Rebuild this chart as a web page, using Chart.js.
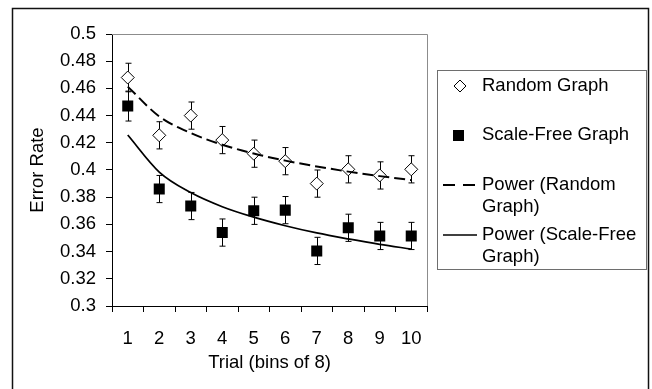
<!DOCTYPE html>
<html>
<head>
<meta charset="utf-8">
<script src="https://cdn.jsdelivr.net/npm/chart.js@4.4.0/dist/chart.umd.min.js"></script>
<style>
  html, body { margin: 0; padding: 0; background: #fff; }
  #wrap { width: 652px; height: 389px; }
</style>
</head>
<body>
<div id="wrap"><canvas id="errchart" width="652" height="389"></canvas></div>
<script>
// values
var categories = ["1", "2", "3", "4", "5", "6", "7", "8", "9", "10"];
var randomGraph = [0.468, 0.4255, 0.44, 0.422, 0.412, 0.4065, 0.39, 0.4005, 0.396, 0.4005];
var randomErr = [0.0105, 0.01, 0.01, 0.01, 0.01, 0.01, 0.01, 0.01, 0.01, 0.01];
var scaleFree = [0.447, 0.386, 0.3735, 0.354, 0.370, 0.3705, 0.3405, 0.3575, 0.3515, 0.3515];
var scaleFreeErr = [0.011, 0.01, 0.01, 0.01, 0.01, 0.01, 0.01, 0.01, 0.01, 0.01];
var powerRandom = [0.4613, 0.4394, 0.4272, 0.4186, 0.4121, 0.4069, 0.4026, 0.3988, 0.3955, 0.3926];
var powerScaleFree = [0.4257, 0.3985, 0.3834, 0.3730, 0.3653, 0.3590, 0.3537, 0.3493, 0.3453, 0.3419];
var yMin = 0.3, yMax = 0.5, yStep = 0.02;

var FONT = "'Liberation Sans', Arial, sans-serif";
var FSIZE = 18.5;

Chart.defaults.font.family = FONT;
Chart.defaults.font.size = FSIZE;
Chart.defaults.color = '#000';

/*----------------------------------------*/
/*  frame, plot border, error bars, legend
/*----------------------------------------*/
var decor = {
	id: 'decor',
	beforeDraw: function (chart) {
		var ctx = chart.ctx;
		ctx.save();
		ctx.fillStyle = '#fff';
		ctx.fillRect(0, 0, chart.width, chart.height);
		ctx.strokeStyle = '#111';
		ctx.lineWidth = 1.5;
		ctx.strokeRect(12.5, 8.5, 636, 400);
		ctx.restore();
	},
	beforeDatasetsDraw: function (chart) {
		var ctx = chart.ctx, a = chart.chartArea;
		var xs = chart.scales.x, ys = chart.scales.y;
		ctx.save();
		ctx.strokeStyle = '#8c8c8c';
		ctx.lineWidth = 1;
		ctx.beginPath();
		ctx.moveTo(a.left, a.top + 0.5);
		ctx.lineTo(a.right + 0.5, a.top + 0.5);
		ctx.lineTo(a.right + 0.5, a.bottom);
		ctx.stroke();

		// error bars
		ctx.strokeStyle = '#000';
		[[randomGraph, randomErr], [scaleFree, scaleFreeErr]].forEach(function (s) {
			s[0].forEach(function (v, i) {
				var x = Math.round(xs.getPixelForValue(i)) + 0.5;
				var t = ys.getPixelForValue(v + s[1][i]);
				var b = ys.getPixelForValue(v - s[1][i]);
				ctx.beginPath();
				ctx.moveTo(x, t); ctx.lineTo(x, b);
				ctx.moveTo(x - 3, t); ctx.lineTo(x + 3, t);
				ctx.moveTo(x - 3, b); ctx.lineTo(x + 3, b);
				ctx.stroke();
			});
		});
		ctx.restore();
	},
	afterDraw: function (chart) {
		var ctx = chart.ctx;
		var ds = chart.data.datasets;
		ctx.save();
		ctx.strokeStyle = '#6e6e6e';
		ctx.lineWidth = 1;
		ctx.strokeRect(437.5, 70.5, 209, 199);

		ctx.font = FSIZE + 'px ' + FONT;
		ctx.fillStyle = '#000';
		ctx.textBaseline = 'middle';
		ctx.textAlign = 'left';

		// diamond
		ctx.beginPath();
		ctx.moveTo(460, 80); ctx.lineTo(466, 86); ctx.lineTo(460, 92); ctx.lineTo(454, 86);
		ctx.closePath();
		ctx.fillStyle = '#fff'; ctx.fill();
		ctx.strokeStyle = '#000'; ctx.stroke();
		ctx.fillStyle = '#000';
		ctx.fillText(ds[2].label, 482, 86);

		// square
		ctx.fillRect(453, 130, 11, 11);
		ctx.fillText(ds[3].label, 482, 135);

		// dashed trend
		ctx.lineWidth = 2;
		ctx.setLineDash([12, 8]);
		ctx.beginPath(); ctx.moveTo(443, 185); ctx.lineTo(477, 185); ctx.stroke();
		ctx.setLineDash([]);
		ctx.fillText('Power (Random', 482, 185);
		ctx.fillText('Graph)', 482, 207);

		// solid trend
		ctx.lineWidth = 1.5;
		ctx.beginPath(); ctx.moveTo(443, 235); ctx.lineTo(477, 235); ctx.stroke();
		ctx.fillText('Power (Scale-Free', 482, 235);
		ctx.fillText('Graph)', 482, 257);
		ctx.restore();
	}
};

var ctx = document.getElementById("errchart");
var errchart = new Chart(ctx, {
	type: 'line',
	data: {
		labels: categories,
		datasets: [{
			label: 'Power (Random Graph)',
			data: powerRandom,
			borderColor: '#000',
			borderWidth: 2,
			borderDash: [11, 5],
			pointRadius: 0,
			cubicInterpolationMode: 'monotone',
			fill: false,
			order: 0
		}, {
			label: 'Power (Scale-Free Graph)',
			data: powerScaleFree,
			borderColor: '#000',
			borderWidth: 1.75,
			pointRadius: 0,
			cubicInterpolationMode: 'monotone',
			fill: false,
			order: 0
		}, {
			label: 'Random Graph',
			data: randomGraph,
			showLine: false,
			pointStyle: 'rectRot',
			pointRadius: 6.5,
			pointBorderWidth: 1,
			pointBackgroundColor: '#fff',
			pointBorderColor: '#000',
			order: 1
		}, {
			label: 'Scale-Free Graph',
			data: scaleFree,
			showLine: false,
			pointStyle: 'rect',
			pointRadius: 7.8,
			pointBorderWidth: 0,
			pointBackgroundColor: '#000',
			pointBorderColor: '#000',
			order: 1
		}]
	},
	options: {
		responsive: false,
		animation: false,
		devicePixelRatio: 1,
		layout: {
			padding: { left: 0, right: 225, top: 34, bottom: 13 }
		},
		plugins: {
			legend: { display: false },
			tooltip: { enabled: false }
		},
		scales: {
			x: {
				type: 'category',
				offset: true,
				afterFit: function (s) { s.height = 70; },
				grid: {
					offset: true,
					drawOnChartArea: false,
					drawTicks: true,
					tickLength: 6,
					color: '#000'
				},
				border: { color: '#000', width: 1 },
				ticks: { padding: 16, maxRotation: 0, autoSkip: false },
				title: {
					display: true,
					text: 'Trial (bins of 8)',
					padding: { top: 0, bottom: 2 }
				}
			},
			y: {
				min: yMin,
				max: yMax,
				afterFit: function (s) { s.width = 112; },
				grid: {
					drawOnChartArea: false,
					drawTicks: true,
					tickLength: 6,
					color: '#000'
				},
				border: { color: '#000', width: 1 },
				ticks: {
					stepSize: yStep,
					padding: 10,
					callback: function (v) { return String(+v.toFixed(2)); }
				},
				title: {
					display: true,
					text: 'Error Rate',
					padding: { top: 27, bottom: 0 }
				}
			}
		}
	},
	plugins: [decor]
});
</script>
</body>
</html>
